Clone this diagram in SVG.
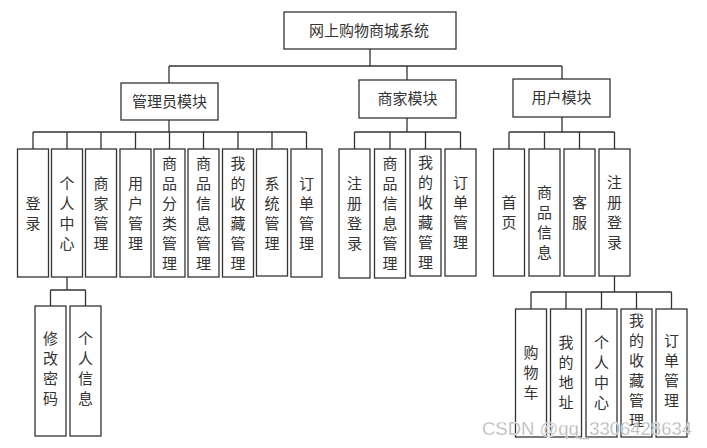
<svg xmlns="http://www.w3.org/2000/svg" width="707" height="448" viewBox="0 0 707 448">
<style>
.box{fill:#fff;stroke:#333;stroke-width:1.3}
.t{font-family:"Noto Sans CJK SC","Liberation Sans",sans-serif;font-size:15px;fill:#333;text-anchor:middle}
.ln{fill:none;stroke:#333;stroke-width:1.3}
.wm{font-family:"Liberation Sans",Arial,sans-serif;font-size:18px;fill:#aaa;stroke:#fff;stroke-width:0.4}
</style>
<rect width="707" height="448" fill="#fff"/>
<g id="connectors" class="ln">
<path d="M370 49V66M169 66H562M169 66V83M407 66V80M562 66V79"/>
<path d="M169 120V132M33 132H306.5M33 132V149M67 132V149M101 132V149M135.5 132V149M169.5 132V149M203.5 132V149M238 132V149M272 132V149M306.5 132V149"/>
<path d="M407 118V132M354.5 132H460.5M354.5 132V149M390 132V149M425.5 132V149M460.5 132V149"/>
<path d="M562 117V132M509 132H614.5M509 132V149M544.5 132V149M579.5 132V149M614.5 132V149"/>
<path d="M67 277V290M50.5 290H85.5M50.5 290V306M85.5 290V306"/>
<path d="M614.5 276V292M531 292H671.5M531 292V309M566 292V309M601.5 292V309M636.5 292V309M671.5 292V309"/>
</g>
<g id="root"><rect class="box" x="284" y="12" width="172" height="37"/><text class="t" x="369" y="36">网上购物商城系统</text></g>
<g id="admin"><rect class="box" x="121" y="83" width="97" height="37"/><text class="t" x="169.5" y="107">管理员模块</text></g>
<g id="merchant"><rect class="box" x="359" y="80" width="97" height="38"/><text class="t" x="407.5" y="104">商家模块</text></g>
<g id="user"><rect class="box" x="513" y="79" width="97" height="38"/><text class="t" x="561.5" y="103">用户模块</text></g>

<g id="a1"><rect class="box" x="17.5" y="149" width="31" height="128"/><text class="t" x="33" y="208.5"><tspan x="33">登</tspan><tspan x="33" dy="20">录</tspan></text></g>
<g id="a2"><rect class="box" x="51.5" y="149" width="31" height="128"/><text class="t" x="67" y="188.5"><tspan x="67">个</tspan><tspan x="67" dy="20">人</tspan><tspan x="67" dy="20">中</tspan><tspan x="67" dy="20">心</tspan></text></g>
<g id="a3"><rect class="box" x="85.5" y="149" width="31" height="128"/><text class="t" x="101" y="188.5"><tspan x="101">商</tspan><tspan x="101" dy="20">家</tspan><tspan x="101" dy="20">管</tspan><tspan x="101" dy="20">理</tspan></text></g>
<g id="a4"><rect class="box" x="120" y="149" width="31" height="128"/><text class="t" x="135.5" y="188.5"><tspan x="135.5">用</tspan><tspan x="135.5" dy="20">户</tspan><tspan x="135.5" dy="20">管</tspan><tspan x="135.5" dy="20">理</tspan></text></g>
<g id="a5"><rect class="box" x="154" y="149" width="31" height="128"/><text class="t" x="169.5" y="168.5"><tspan x="169.5">商</tspan><tspan x="169.5" dy="20">品</tspan><tspan x="169.5" dy="20">分</tspan><tspan x="169.5" dy="20">类</tspan><tspan x="169.5" dy="20">管</tspan><tspan x="169.5" dy="20">理</tspan></text></g>
<g id="a6"><rect class="box" x="188" y="149" width="31" height="128"/><text class="t" x="203.5" y="168.5"><tspan x="203.5">商</tspan><tspan x="203.5" dy="20">品</tspan><tspan x="203.5" dy="20">信</tspan><tspan x="203.5" dy="20">息</tspan><tspan x="203.5" dy="20">管</tspan><tspan x="203.5" dy="20">理</tspan></text></g>
<g id="a7"><rect class="box" x="222.5" y="149" width="31" height="128"/><text class="t" x="238" y="168.5"><tspan x="238">我</tspan><tspan x="238" dy="20">的</tspan><tspan x="238" dy="20">收</tspan><tspan x="238" dy="20">藏</tspan><tspan x="238" dy="20">管</tspan><tspan x="238" dy="20">理</tspan></text></g>
<g id="a8"><rect class="box" x="256.5" y="149" width="31" height="127"/><text class="t" x="272" y="188.5"><tspan x="272">系</tspan><tspan x="272" dy="20">统</tspan><tspan x="272" dy="20">管</tspan><tspan x="272" dy="20">理</tspan></text></g>
<g id="a9"><rect class="box" x="291" y="149" width="31" height="128"/><text class="t" x="306.5" y="188.5"><tspan x="306.5">订</tspan><tspan x="306.5" dy="20">单</tspan><tspan x="306.5" dy="20">管</tspan><tspan x="306.5" dy="20">理</tspan></text></g>

<g id="p1"><rect class="box" x="35" y="306" width="31" height="130"/><text class="t" x="50.5" y="343.5"><tspan x="50.5">修</tspan><tspan x="50.5" dy="20">改</tspan><tspan x="50.5" dy="20">密</tspan><tspan x="50.5" dy="20">码</tspan></text></g>
<g id="p2"><rect class="box" x="70" y="306" width="31" height="130"/><text class="t" x="85.5" y="343.5"><tspan x="85.5">个</tspan><tspan x="85.5" dy="20">人</tspan><tspan x="85.5" dy="20">信</tspan><tspan x="85.5" dy="20">息</tspan></text></g>

<g id="m1"><rect class="box" x="339" y="149" width="31" height="129"/><text class="t" x="354.5" y="188.5"><tspan x="354.5">注</tspan><tspan x="354.5" dy="20">册</tspan><tspan x="354.5" dy="20">登</tspan><tspan x="354.5" dy="20">录</tspan></text></g>
<g id="m2"><rect class="box" x="374.5" y="149" width="31" height="129"/><text class="t" x="390" y="168.5"><tspan x="390">商</tspan><tspan x="390" dy="20">品</tspan><tspan x="390" dy="20">信</tspan><tspan x="390" dy="20">息</tspan><tspan x="390" dy="20">管</tspan><tspan x="390" dy="20">理</tspan></text></g>
<g id="m3"><rect class="box" x="410" y="149" width="31" height="127"/><text class="t" x="425.5" y="167.5"><tspan x="425.5">我</tspan><tspan x="425.5" dy="20">的</tspan><tspan x="425.5" dy="20">收</tspan><tspan x="425.5" dy="20">藏</tspan><tspan x="425.5" dy="20">管</tspan><tspan x="425.5" dy="20">理</tspan></text></g>
<g id="m4"><rect class="box" x="445" y="149" width="31" height="127"/><text class="t" x="460.5" y="187.5"><tspan x="460.5">订</tspan><tspan x="460.5" dy="20">单</tspan><tspan x="460.5" dy="20">管</tspan><tspan x="460.5" dy="20">理</tspan></text></g>

<g id="u1"><rect class="box" x="493.5" y="149" width="31" height="127"/><text class="t" x="509" y="207.5"><tspan x="509">首</tspan><tspan x="509" dy="20">页</tspan></text></g>
<g id="u2"><rect class="box" x="529" y="149" width="31" height="127"/><text class="t" x="544.5" y="197.5"><tspan x="544.5">商</tspan><tspan x="544.5" dy="20">品</tspan><tspan x="544.5" dy="20">信</tspan><tspan x="544.5" dy="20">息</tspan></text></g>
<g id="u3"><rect class="box" x="564" y="149" width="31" height="127"/><text class="t" x="579.5" y="207.5"><tspan x="579.5">客</tspan><tspan x="579.5" dy="20">服</tspan></text></g>
<g id="u4"><rect class="box" x="599" y="149" width="31" height="127"/><text class="t" x="614.5" y="187.5"><tspan x="614.5">注</tspan><tspan x="614.5" dy="20">册</tspan><tspan x="614.5" dy="20">登</tspan><tspan x="614.5" dy="20">录</tspan></text></g>

<g id="r1"><rect class="box" x="515.5" y="309" width="31" height="128"/><text class="t" x="531" y="357.5"><tspan x="531">购</tspan><tspan x="531" dy="20">物</tspan><tspan x="531" dy="20">车</tspan></text></g>
<g id="r2"><rect class="box" x="550.5" y="309" width="31" height="128"/><text class="t" x="566" y="347.5"><tspan x="566">我</tspan><tspan x="566" dy="20">的</tspan><tspan x="566" dy="20">地</tspan><tspan x="566" dy="20">址</tspan></text></g>
<g id="r3"><rect class="box" x="586" y="309" width="31" height="128"/><text class="t" x="601.5" y="347.5"><tspan x="601.5">个</tspan><tspan x="601.5" dy="20">人</tspan><tspan x="601.5" dy="20">中</tspan><tspan x="601.5" dy="20">心</tspan></text></g>
<g id="r4"><rect class="box" x="621" y="309" width="31" height="128"/><text class="t" x="636.5" y="325.5"><tspan x="636.5">我</tspan><tspan x="636.5" dy="20">的</tspan><tspan x="636.5" dy="20">收</tspan><tspan x="636.5" dy="20">藏</tspan><tspan x="636.5" dy="20">管</tspan><tspan x="636.5" dy="20">理</tspan></text></g>
<g id="r5"><rect class="box" x="656" y="309" width="31" height="128"/><text class="t" x="671.5" y="345.5"><tspan x="671.5">订</tspan><tspan x="671.5" dy="20">单</tspan><tspan x="671.5" dy="20">管</tspan><tspan x="671.5" dy="20">理</tspan></text></g>

<text class="wm" x="482" y="435" textLength="210" lengthAdjust="spacingAndGlyphs">CSDN @qq_3306428634</text>
</svg>
